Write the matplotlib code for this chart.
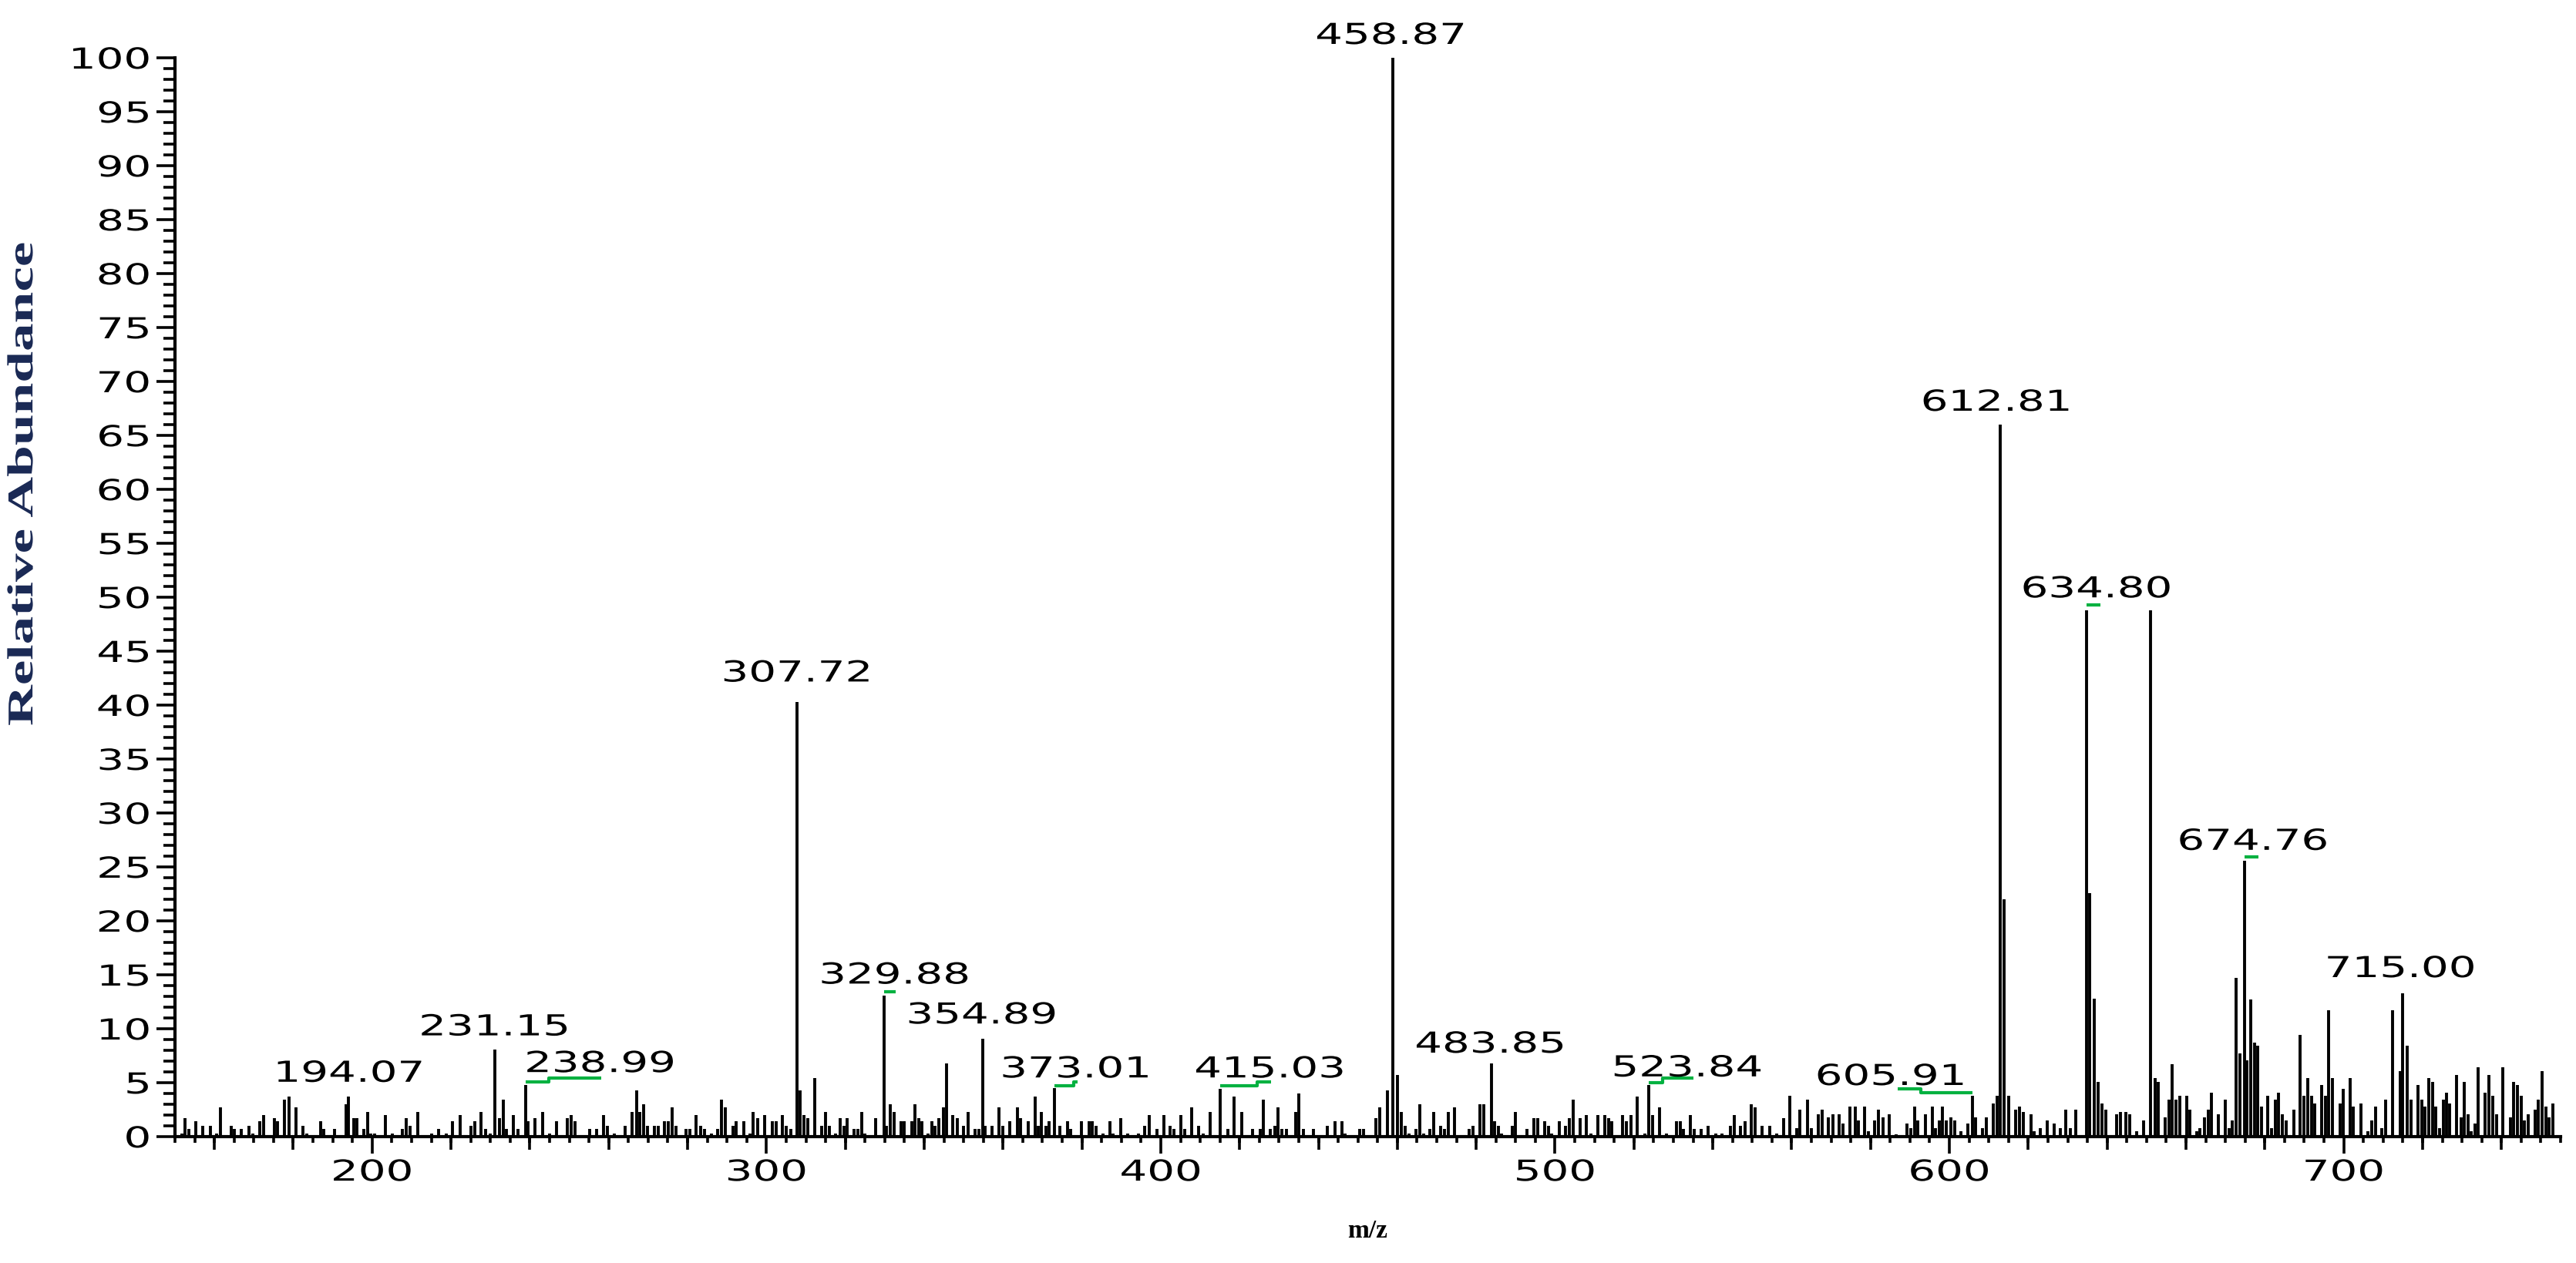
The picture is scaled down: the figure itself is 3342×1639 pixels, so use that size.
import matplotlib
matplotlib.use("Agg")
import matplotlib.pyplot as plt
from matplotlib.ticker import MultipleLocator, NullFormatter, FixedLocator
from matplotlib.patheffects import AbstractPathEffect
from matplotlib.transforms import Affine2D

# ---------------- data ----------------
mz = [151.7, 152.6, 153.5, 155.3, 157.0, 158.9, 160.5, 161.6, 164.2, 165.1, 166.9, 168.8, 169.8,
      171.5, 172.4, 175.2, 176.0, 177.7, 178.9, 180.6, 182.4, 183.4, 186.9, 187.8, 190.5, 193.4,
      194.07, 195.4, 196.2, 197.9, 198.8, 199.7, 200.6, 203.3, 205.1, 207.7, 208.7, 209.7, 211.5,
      215.1, 216.9, 218.8, 220.4, 222.3, 225.0, 226.0, 227.7, 228.7, 229.9, 231.15, 232.2, 233.2,
      234.0, 235.9, 236.9, 238.99, 239.6, 241.3, 243.2, 245.0, 246.8, 249.4, 250.4, 251.4,
      255.1, 256.9, 258.7, 259.6, 261.4, 264.1, 265.9, 267.0, 267.9, 268.8, 269.8, 271.5, 272.5,
      274.2, 275.2, 276.0, 277.1, 279.6, 280.6, 282.2, 283.3, 284.3, 286.0, 287.6, 288.6, 289.6,
      291.5, 292.3, 294.2, 295.9, 296.7, 297.7, 299.5, 301.4, 302.4, 304.1, 305.1, 306.1, 307.72,
      308.5, 309.5, 310.5, 312.2, 314.1, 314.9, 315.9, 317.6, 318.6, 319.6, 320.4, 322.2, 323.1,
      324.2, 325.0, 327.7, 329.88, 330.4, 331.4, 332.3, 334.1, 335.0, 336.8, 337.6, 338.6, 339.5,
      341.0, 342.0, 342.8, 343.8, 344.8, 345.7, 347.2, 348.4, 350.0, 351.1, 352.9, 353.9, 354.89,
      355.5, 357.3, 359.0, 360.0, 361.7, 363.6, 364.4, 366.3, 368.1, 369.0, 369.8, 370.8, 371.7,
      373.01, 374.5, 376.4, 377.2, 379.9, 381.8, 382.7, 383.6, 385.3, 387.1, 387.9, 389.8, 391.6,
      394.3, 396.0, 397.0, 399.1, 400.7, 402.4, 403.3, 405.1, 406.1, 407.8, 409.5, 410.8, 412.5,
      415.03, 417.0, 418.6, 420.6, 423.3, 425.3, 426.0, 427.8, 428.9, 429.7, 430.7, 431.8, 434.3,
      435.1, 436.1, 438.8, 442.3, 444.1, 446.0, 446.8, 450.5, 451.4, 454.5, 455.6, 457.4, 458.87,
      460.1, 461.1, 462.0, 463.0, 464.8, 465.6, 466.7, 468.3, 469.3, 471.0, 472.0, 472.9, 474.5,
      478.3, 479.2, 481.0, 481.9, 483.85, 484.6, 485.7, 486.5, 489.1, 490.0, 492.9, 494.7, 495.6,
      497.3, 498.3, 499.2, 501.0, 502.7, 503.7, 504.6, 506.4, 508.0, 509.1, 510.9, 512.6, 513.6,
      514.4, 517.1, 518.1, 519.2, 520.8, 522.7, 523.84, 524.7, 526.4, 528.2, 530.8, 531.7, 532.6,
      534.3, 535.3, 537.0, 538.9, 540.7, 542.4, 544.4, 545.4, 547.1, 548.1, 549.8, 550.8, 552.5,
      554.5, 556.2, 557.9, 559.6, 561.3, 562.1, 564.0, 565.0, 566.7, 567.7, 569.3, 570.4, 572.0,
      573.0, 574.7, 576.1, 576.9, 578.4, 579.4, 581.1, 582.1, 583.1, 584.8, 586.5, 589.2, 590.2,
      591.1, 592.0, 593.9, 595.6, 596.5, 597.4, 598.3, 599.2, 600.3, 601.3, 603.0, 604.7, 605.91,
      606.7, 608.4, 609.4, 611.1, 612.1, 612.81, 613.9, 615.1, 616.8, 617.8, 618.8, 620.8, 621.5,
      623.0, 624.9, 626.6, 628.2, 629.5, 630.6, 632.1, 634.80, 635.6, 636.7, 637.7, 638.7, 639.7,
      642.4, 643.4, 644.7, 645.7, 647.4, 649.2, 651.1, 652.1, 653.0, 654.8, 655.7, 656.5, 657.5,
      658.4, 660.1, 661.0, 662.7, 663.6, 664.7, 665.6, 666.4, 668.2, 670.0, 671.0, 671.8, 672.7,
      673.6, 674.76, 675.5, 676.4, 677.3, 678.1, 679.1, 680.7, 681.7, 682.7, 683.5, 684.5, 685.5,
      687.3, 689.0, 689.9, 690.8, 691.8, 692.7, 694.4, 695.4, 696.2, 697.2, 699.0, 699.9, 701.6,
      702.5, 704.4, 706.1, 707.1, 708.1, 709.7, 710.7, 712.4, 714.3, 715.00, 716.1, 717.0, 718.8,
      719.8, 720.6, 721.5, 722.6, 723.4, 724.3, 725.2, 726.1, 726.9, 728.7, 729.7, 730.5, 731.5,
      732.3, 733.3, 734.1, 735.9, 736.9, 737.8, 738.7, 740.4, 742.2, 743.0, 744.1, 745.0, 745.8,
      746.8, 748.6, 749.4, 750.4, 751.2, 752.1, 753.0]

intensity = [0.3, 1.7, 0.7, 1.4, 1.0, 1.0, 0.3, 2.7, 1.0, 0.7, 0.7, 1.0, 0.3,
             1.4, 2.0, 1.7, 1.4, 3.4, 3.7, 2.7, 1.0, 0.3, 1.4, 0.7, 0.7, 3.0,
             3.7, 1.7, 1.7, 0.7, 2.3, 0.3, 0.3, 2.0, 0.3, 0.7, 1.7, 1.0, 2.3,
             0.3, 0.7, 0.3, 1.4, 2.0, 1.0, 1.4, 2.3, 0.7, 0.3, 8.1, 1.7, 3.4,
             0.7, 2.0, 0.7, 4.8, 1.4, 1.7, 2.3, 0.3, 1.4, 1.7, 2.0, 1.4,
             0.7, 0.7, 2.0, 1.0, 0.3, 1.0, 2.3, 4.3, 2.3, 3.0, 1.0, 1.0, 1.0,
             1.4, 1.4, 2.7, 1.0, 0.7, 0.7, 2.0, 1.0, 0.7, 0.3, 0.7, 3.4, 2.7,
             1.0, 1.4, 1.4, 0.3, 2.3, 1.7, 2.0, 1.4, 1.4, 2.0, 1.0, 0.7, 40.3,
             4.3, 2.0, 1.7, 5.4, 1.0, 2.3, 1.0, 0.3, 1.7, 1.0, 1.7, 0.7, 0.7,
             2.3, 0.3, 1.7, 13.1, 1.0, 3.0, 2.3, 1.4, 1.4, 1.4, 3.0, 1.7, 1.4,
             0.3, 1.4, 1.0, 1.7, 2.7, 6.8, 2.0, 1.7, 1.0, 2.3, 0.7, 0.7, 9.1,
             1.0, 1.0, 2.7, 1.0, 1.4, 2.7, 1.7, 1.4, 3.7, 1.0, 2.3, 1.0, 1.4,
             4.5, 1.0, 1.4, 0.7, 1.4, 1.4, 1.4, 1.0, 0.3, 1.4, 0.3, 1.7, 0.3,
             0.3, 1.0, 2.0, 0.7, 2.0, 1.0, 0.7, 2.0, 0.7, 2.7, 1.0, 0.3, 2.3,
             4.4, 0.7, 3.7, 2.3, 0.7, 0.7, 3.4, 0.7, 1.0, 2.7, 0.7, 0.7, 2.3,
             4.0, 0.7, 0.7, 1.0, 1.4, 1.4, 0.3, 0.7, 0.7, 1.7, 2.7, 4.3, 100.0,
             5.7, 2.3, 1.0, 0.3, 0.7, 3.0, 0.3, 0.7, 2.3, 1.0, 0.7, 2.3, 2.7,
             0.7, 1.0, 3.0, 3.0, 6.8, 1.4, 1.0, 0.3, 1.0, 2.3, 0.7, 1.7, 1.7,
             1.4, 1.0, 0.3, 1.4, 1.0, 1.7, 3.4, 1.7, 2.0, 0.3, 2.0, 2.0, 1.7,
             1.4, 2.0, 1.4, 2.0, 3.7, 0.3, 4.8, 2.0, 2.7, 0.3, 1.4, 1.4, 0.7,
             2.0, 0.7, 0.7, 1.0, 0.3, 0.3, 1.0, 2.0, 1.0, 1.4, 3.0, 2.7, 1.0,
             1.0, 0.3, 1.7, 3.8, 0.8, 2.5, 3.4, 0.8, 2.1, 2.5, 1.8, 2.1, 2.1,
             1.2, 2.8, 2.8, 1.5, 2.8, 0.5, 1.5, 2.5, 1.8, 2.1, 0.2, 1.2, 0.8,
             2.8, 1.5, 2.1, 2.8, 0.8, 1.5, 2.8, 1.5, 1.8, 1.5, 0.5, 1.2, 3.8,
             1.8, 0.8, 1.8, 3.1, 3.8, 66.0, 22.0, 3.8, 2.5, 2.8, 2.3, 2.1, 0.5,
             0.8, 1.5, 1.2, 0.8, 2.5, 0.8, 2.5, 48.8, 22.6, 12.8, 5.1, 3.1, 2.5,
             2.1, 2.3, 2.3, 2.1, 0.5, 1.5, 48.8, 5.4, 5.1, 1.8, 3.4, 6.7, 3.4,
             3.8, 3.8, 2.5, 0.5, 0.8, 1.8, 2.5, 4.1, 2.1, 3.4, 0.8, 1.5, 14.7,
             7.7, 25.6, 7.1, 12.7, 8.7, 8.4, 2.8, 3.8, 0.8, 3.4, 4.1, 2.1, 1.5,
             2.5, 9.4, 3.8, 5.4, 3.8, 3.1, 4.8, 3.8, 11.7, 5.4, 3.1, 4.4, 5.4,
             2.8, 3.1, 0.5, 1.5, 2.8, 0.8, 3.4, 11.7, 6.1, 13.3, 8.4, 3.4, 4.8,
             3.4, 2.8, 5.4, 5.1, 2.8, 0.8, 3.4, 4.1, 3.1, 5.7, 1.8, 5.1, 2.1,
             0.5, 1.2, 6.4, 4.1, 5.7, 3.8, 2.1, 6.4, 1.8, 5.1, 4.8, 3.8, 1.5,
             2.1, 2.5, 3.4, 6.1, 2.8, 1.8, 3.1]

# peak annotations: text, centre x (m/z), centre y (% abundance)
label_text = ["194.07", "231.15", "238.99", "307.72", "329.88", "354.89", "373.01", "415.03",
              "458.87", "483.85", "523.84", "605.91", "612.81", "634.80", "674.76", "715.00"]
label_x = [194.2, 231.0, 257.8, 307.7, 332.5, 354.6, 378.4, 427.6,
           458.3, 483.5, 533.5, 585.1, 611.9, 637.3, 677.0, 714.4]
label_y = [5.8, 10.1, 6.7, 42.9, 14.9, 11.2, 6.2, 6.2,
           102.0, 8.5, 6.3, 5.5, 68.0, 50.7, 27.3, 15.5]

# green label leaders (step lines): x breakpoints and y levels
leader_x = [[238.99, 244.8, 244.8, 258.1],
            [329.88, 332.8],
            [373.01, 377.9, 377.9, 378.9],
            [415.03, 424.4, 424.4, 428.0],
            [523.84, 527.2, 527.2, 535.0],
            [586.9, 592.8, 592.8, 605.91],
            [634.80, 638.3],
            [674.76, 678.3]]
leader_y = [[5.1, 5.1, 5.4, 5.4],
            [13.4, 13.4],
            [4.7, 4.7, 5.1, 5.1],
            [4.7, 4.7, 5.1, 5.1],
            [5.0, 5.0, 5.4, 5.4],
            [4.4, 4.4, 4.1, 4.1],
            [49.3, 49.3],
            [25.9, 25.9]]

x_major = [200, 300, 400, 500, 600, 700]
x_mid = [160, 180, 220, 240, 260, 280, 320, 340, 360, 380, 420, 440, 460, 480,
         520, 540, 560, 580, 620, 640, 660, 680, 720, 740]


# horizontal stretch of glyphs (the reference uses a wide, stretched screen font)
class Stretch(AbstractPathEffect):
    def __init__(self, sx=1.0, sy=1.0, anchor="center"):
        super().__init__()
        self.sx, self.sy, self.anchor = sx, sy, anchor

    def draw_path(self, renderer, gc, tpath, affine, rgbFace=None):
        ext = tpath.get_extents()
        if self.anchor == "right":
            x0 = ext.x1
        elif self.anchor == "left":
            x0 = ext.x0
        else:
            x0 = 0.5 * (ext.x0 + ext.x1)
        y0 = 0.5 * (ext.y0 + ext.y1)
        t = Affine2D().translate(-x0, -y0).scale(self.sx, self.sy).translate(x0, y0) + affine
        renderer.draw_path(gc, tpath, t, rgbFace)


SX = 1.5
FS = 27

# ---------------- figure ----------------
W, H = 3342, 1640
fig = plt.figure(figsize=(W / 100, H / 100), dpi=100)
ax = fig.add_axes([227 / W, 1 - 1476 / H, 3095 / W, 1400 / H])

ax.vlines(mz, 0, intensity, colors="black", linewidth=2.8)

for xs, ys in zip(leader_x, leader_y):
    ax.plot(xs, ys, color="#00B140", linewidth=3.0, solid_capstyle="butt", clip_on=False)

for t, x, y in zip(label_text, label_x, label_y):
    ax.text(x, y, t, ha="center", va="center", clip_on=False, family="DejaVu Sans",
            fontsize=FS, path_effects=[Stretch(SX, 1.0, "center")])

ax.set_xlim(150, 755)
ax.set_ylim(0, 100)

for s in ("top", "right"):
    ax.spines[s].set_visible(False)
for s in ("left", "bottom"):
    ax.spines[s].set_linewidth(3.0)

ax.xaxis.set_major_locator(FixedLocator(x_major))
ax.xaxis.set_minor_locator(MultipleLocator(5))
ax.yaxis.set_major_locator(MultipleLocator(5))
ax.yaxis.set_minor_locator(MultipleLocator(1))
ax.tick_params(axis="x", which="major", length=16, width=2.6, pad=5, labelsize=FS)
ax.tick_params(axis="x", which="minor", length=6, width=2.6)
ax.tick_params(axis="y", which="major", length=17, width=2.6, pad=6, labelsize=FS)
ax.tick_params(axis="y", which="minor", length=11, width=2.6)

sec = ax.secondary_xaxis("bottom")
sec.set_xticks(x_mid)
sec.xaxis.set_major_formatter(NullFormatter())
sec.tick_params(axis="x", which="major", length=12, width=2.6)
sec.spines["bottom"].set_visible(False)

ax.set_ylabel("Relative Abundance", family="Liberation Serif", fontweight="bold",
              fontsize=34, color="#1b2a55",
              path_effects=[Stretch(1.55, 1.0, "center")])
ax.yaxis.set_label_coords(-0.0565, 0.605)
ax.set_xlabel("m/z", family="Liberation Serif", fontweight="bold", fontsize=24)
ax.xaxis.set_label_coords(0.5, -0.076)

fig.canvas.draw()
for lab in ax.get_xticklabels():
    lab.set_family("DejaVu Sans")
    lab.set_path_effects([Stretch(SX, 1.0, "center")])
for lab in ax.get_yticklabels():
    lab.set_family("DejaVu Sans")
    lab.set_path_effects([Stretch(SX, 1.0, "right")])

fig.savefig("out.png", dpi=100, facecolor="white")
